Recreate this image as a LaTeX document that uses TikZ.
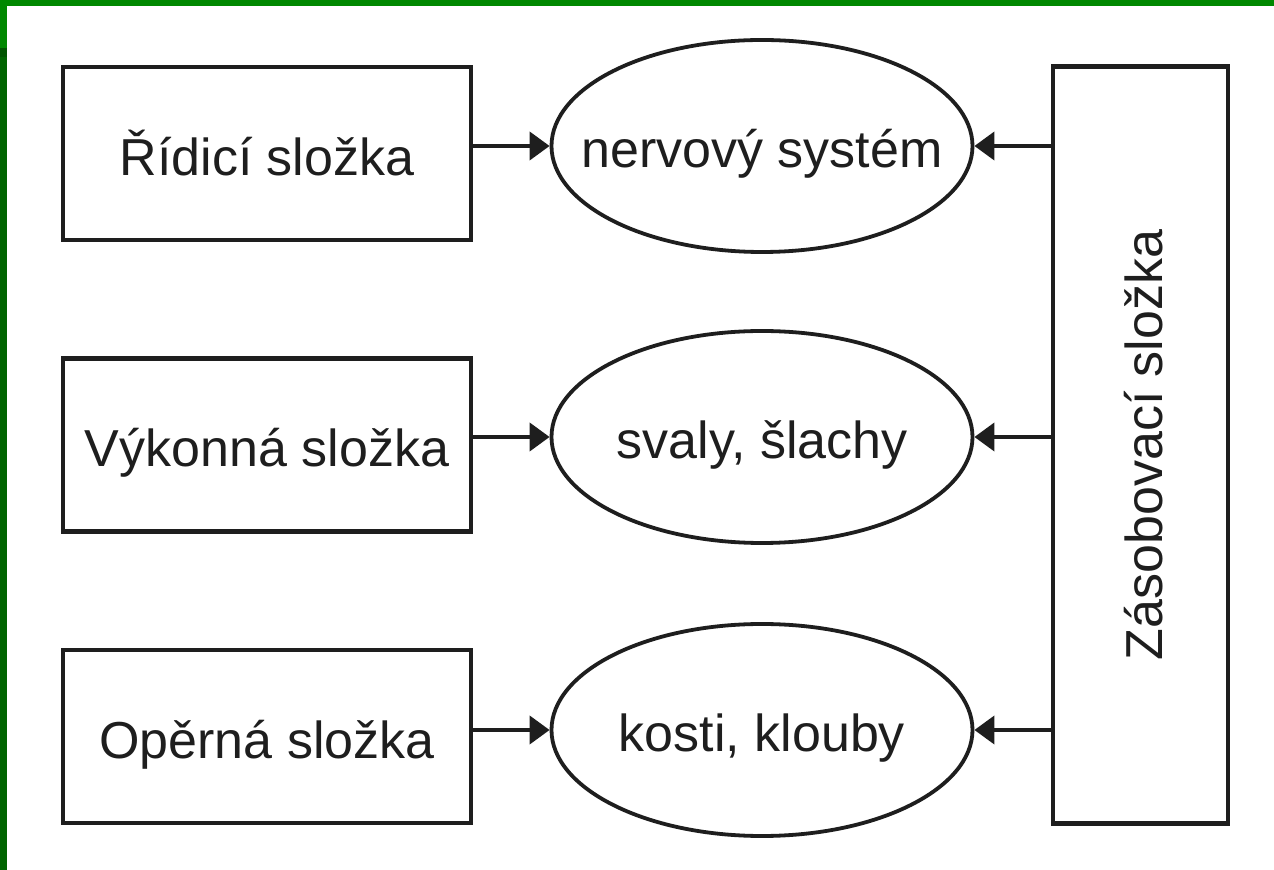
\documentclass[tikz,border=0pt]{standalone}
\usepackage{fontspec}
\setmainfont{Liberation Sans}
\usetikzlibrary{shapes.geometric,arrows.meta}
\definecolor{gbright}{RGB}{0,136,0}
\definecolor{gdark}{RGB}{0,100,0}
\definecolor{gstrip}{RGB}{0,84,0}
\definecolor{ink}{RGB}{30,30,30}
\begin{document}
\begin{tikzpicture}[x=0.5pt,y=-0.5pt,
  lbl/.style={font=\fontsize{26pt}{31pt}\selectfont, text=ink, text height=26pt, text depth=4pt, inner sep=0pt},
  sbox/.style={lbl, draw=ink, line width=2.25pt, rectangle, minimum width=204pt, minimum height=86.5pt},
  oval/.style={draw=ink, line width=1.9pt, ellipse, inner sep=0pt, minimum width=210.5pt, minimum height=106pt},
  arr/.style={draw=ink, line width=2pt, -{Triangle[length=10pt,width=14pt]}}
]
\useasboundingbox (0,0) rectangle (1274,870);
\fill[white] (0,0) rectangle (1274,870);
% green frame
\fill[gbright] (0,0) rectangle (1274,6);
\fill[gbright] (0,0) rectangle (7,48);
\fill[gstrip] (0,48) rectangle (7,57);
\fill[gdark] (0,57) rectangle (7,870);
% left boxes
\node[sbox] (b1) at (267,153.5) {Řídicí složka};
\node[sbox] (b2) at (267,445) {Výkonná složka};
\node[sbox] (b3) at (267,736.5) {Opěrná složka};
% ellipses
\node[oval] (e1) at (762,146) {};
\node[oval] (e2) at (762,437) {};
\node[oval] (e3) at (762,730) {};
\node[lbl] (t1) at (e1.center) {nervový systém};
\node[lbl] (t2) at (e2.center) {svaly, šlachy};
\node[lbl] (t3) at (e3.center) {kosti, klouby};
% right tall box
\node[draw=ink, line width=2.25pt, rectangle, minimum width=87.5pt, minimum height=378.5pt, inner sep=0pt] (r) at (1140.5,445) {};
\node[lbl, rotate=90] (rt) at (r.center) {Zásobovací složka};
% arrows
\draw[arr] (b1.east |- e1.west) -- (e1.west);
\draw[arr] (b2.east |- e2.west) -- (e2.west);
\draw[arr] (b3.east |- e3.west) -- (e3.west);
\draw[arr] (r.west |- e1.east) -- (e1.east);
\draw[arr] (r.west |- e2.east) -- (e2.east);
\draw[arr] (r.west |- e3.east) -- (e3.east);
\end{tikzpicture}
\end{document}
